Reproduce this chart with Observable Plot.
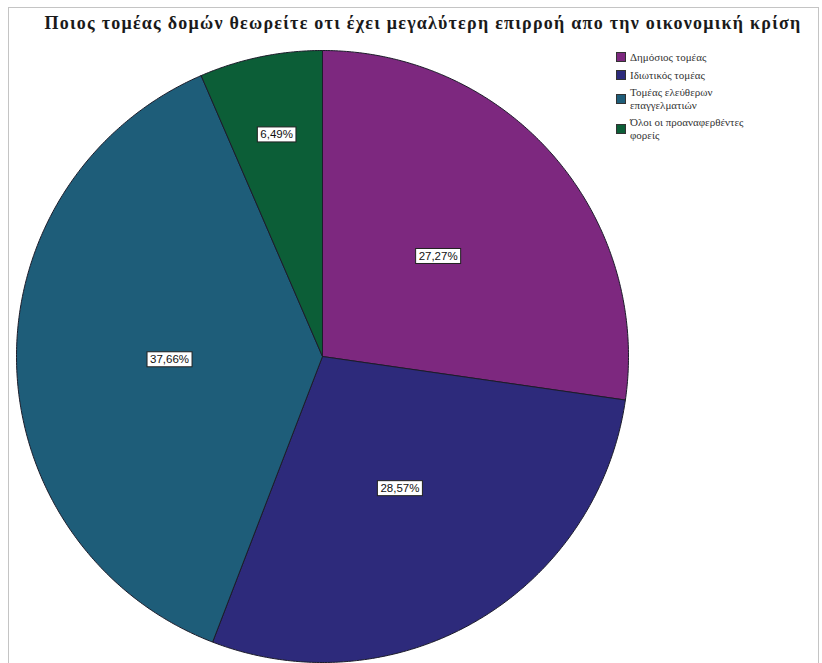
<!DOCTYPE html>
<html>
<head>
<meta charset="utf-8">
<script src="https://cdn.jsdelivr.net/npm/d3@7"></script>
<script src="https://cdn.jsdelivr.net/npm/@observablehq/plot@0.6"></script>
<style>
  body { margin: 0; background: #fff; }
  #frame { position: absolute; left: 8px; top: 7px; width: 811px; height: 680px; border: 1px solid #c4c4c4; box-sizing: border-box; }
  #title { position: absolute; left: 0px; top: 13px; width: 846px; text-align: center; font-family: "Liberation Serif", "DejaVu Serif", serif; font-weight: bold; font-size: 18px; letter-spacing: 1.25px; color: #1a1a1a; white-space: nowrap; }
  #chart { position: absolute; left: 0; top: 40px; }
  #legend { position: absolute; left: 616px; top: 51px; font-family: "Liberation Serif", "DejaVu Serif", serif; font-size: 11px; color: #333; line-height: 12.5px; }
  .item { display: flex; align-items: center; margin-bottom: 5px; }
  .sw { width: 10px; height: 10px; border: 1px solid #333; box-sizing: border-box; margin-right: 4px; flex: none; }
</style>
</head>
<body>
<div id="frame"></div>
<div id="title"></div>
<div id="chart"></div>
<div id="legend"></div>
<script>
const titleText = "Ποιος τομέας δομών θεωρείτε οτι έχει μεγαλύτερη επιρροή απο την οικονομική κρίση";
const categories = ["Δημόσιος τομέας", "Ιδιωτικός τομέας", "Τομέας ελεύθερων επαγγελματιών", "Όλοι οι προαναφερθέντες φορείς"];
const legendLines = [["Δημόσιος τομέας"], ["Ιδιωτικός τομέας"], ["Τομέας ελεύθερων", "επαγγελματιών"], ["Όλοι οι προαναφερθέντες", "φορείς"]];
const values = [27.27, 28.57, 37.66, 6.49];
const labels = ["27,27%", "28,57%", "37,66%", "6,49%"];
const colors = ["#7d287f", "#2d2a7b", "#1e5d79", "#0c5e37"];

document.getElementById("title").textContent = titleText;

// Build slice polygons from the values (clockwise from 12 o'clock)
const total = d3.sum(values);
const slices = [];
const labelPts = [];
let acc = 0;
values.forEach((v, i) => {
  const a0 = acc / total * 2 * Math.PI;
  const a1 = (acc + v) / total * 2 * Math.PI;
  const steps = Math.max(2, Math.ceil((a1 - a0) / (Math.PI / 360)));
  slices.push({cat: categories[i], x: 0, y: 0});
  for (let s = 0; s <= steps; s++) {
    const a = a0 + (a1 - a0) * s / steps;
    slices.push({cat: categories[i], x: Math.sin(a), y: Math.cos(a)});
  }
  slices.push({cat: categories[i], x: 0, y: 0});
  const am = (a0 + a1) / 2;
  const k = v < 10 ? 0.74 : 0.5;
  labelPts.push({label: labels[i], x: k * Math.sin(am), y: k * Math.cos(am)});
  acc += v;
});

const plot = Plot.plot({
  width: 822,
  height: 623,
  marginLeft: 16,
  marginRight: 194,
  marginTop: 10,
  marginBottom: 1,
  x: {domain: [-1, 1], axis: null},
  y: {domain: [-1, 1], axis: null},
  color: {domain: categories, range: colors},
  style: {background: "transparent", overflow: "visible"},
  marks: [
    Plot.line(slices, {x: "x", y: "y", z: "cat", fill: "cat", stroke: "#1c1c2a", strokeWidth: 1, curve: "linear"}),
    Plot.text(labelPts, {x: "x", y: "y", text: "label", fill: "#111", fontSize: 11.5, fontFamily: "'Liberation Sans', Arial, sans-serif", className: "pct"})
  ]
});
document.getElementById("chart").appendChild(plot);

// White boxes behind the percentage labels
d3.select(plot).selectAll("g.pct text").each(function() {
  const b = this.getBBox();
  const padX = 3, padY = 1.5;
  d3.select(this.parentNode).insert("rect", () => this)
    .attr("x", b.x - padX).attr("y", b.y - padY)
    .attr("width", b.width + 2 * padX).attr("height", b.height + 2 * padY)
    .attr("fill", "#fff").attr("stroke", "#222").attr("stroke-width", 1)
    .attr("transform", this.getAttribute("transform"));
});

// Legend
const legend = d3.select("#legend");
categories.forEach((c, i) => {
  const it = legend.append("div").attr("class", "item");
  it.append("div").attr("class", "sw").style("background", colors[i]);
  it.append("div").html(legendLines[i].join("<br>"));
});
</script>
</body>
</html>
